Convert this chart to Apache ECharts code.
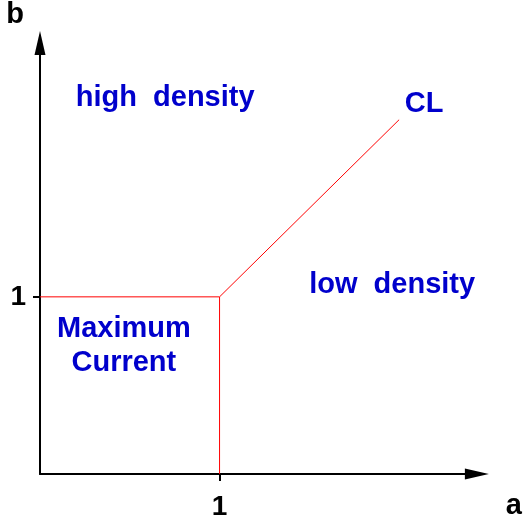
<!DOCTYPE html>
<html>
<head>
<meta charset="utf-8">
<script src="https://cdn.jsdelivr.net/npm/echarts@6/dist/echarts.min.js"></script>
<style>
    html, body { margin: 0; padding: 0; background: #fff; }
    #main { width: 525px; height: 521px; }
</style>
</head>
<body>
<div id="main"></div>
<script type="text/javascript">
    // 相图数据
    var axisMax = 2.433;
    var tickValues = [1];
    var boundaryHigh = [[0, 1], [1, 1], [2, 2]];   // 水平线 + CL 对角线
    var boundaryLow = [[1, 0], [1, 1]];            // 竖线
    var regionNames = ['high  density', 'CL', 'low  density', 'Maximum\nCurrent'];
    var regionPos = [[0.697, 2.122], [2.139, 2.089], [1.961, 1.067], [0.467, 0.725]];

    var font = 'Liberation Sans, Arial, sans-serif';
    var myChart = echarts.init(document.getElementById('main'));

    myChart.setOption({
        animation: false,
        grid: {
            left: 40,
            right: 47,
            top: 40,
            bottom: 43
        },
        xAxis: {
            type: 'value',
            min: 0,
            max: axisMax,
            name: 'a',
            nameLocation: 'end',
            nameGap: 29,
            nameTextStyle: {
                color: '#000',
                fontSize: 29,
                fontWeight: 'bold',
                fontFamily: font,
                verticalAlign: 'top',
                padding: [17, 0, 0, 0]
            },
            splitLine: {show: false},
            axisLine: {
                lineStyle: {color: '#000', width: 2},
                symbol: ['none', 'triangle'],
                symbolSize: [11, 24]
            },
            axisTick: {
                customValues: tickValues,
                length: 7,
                lineStyle: {color: '#000', width: 2}
            },
            axisLabel: {
                customValues: tickValues,
                margin: 19,
                color: '#000',
                fontSize: 28,
                fontWeight: 'bold',
                fontFamily: font
            }
        },
        yAxis: {
            type: 'value',
            min: 0,
            max: axisMax,
            name: 'b',
            nameLocation: 'end',
            nameGap: 14,
            nameTextStyle: {
                color: '#000',
                fontSize: 29,
                fontWeight: 'bold',
                fontFamily: font,
                align: 'right',
                padding: [0, 16, 0, 0]
            },
            splitLine: {show: false},
            axisLine: {
                lineStyle: {color: '#000', width: 2},
                symbol: ['none', 'triangle'],
                symbolSize: [11, 24]
            },
            axisTick: {
                customValues: tickValues,
                length: 7,
                lineStyle: {color: '#000', width: 2}
            },
            axisLabel: {
                customValues: tickValues,
                margin: 14,
                color: '#000',
                fontSize: 28,
                fontWeight: 'bold',
                fontFamily: font
            }
        },
        series: [{
            type: 'line',
            data: boundaryHigh,
            symbol: 'none',
            lineStyle: {color: '#ff0000', width: 1}
        }, {
            type: 'line',
            data: boundaryLow,
            symbol: 'none',
            lineStyle: {color: '#ff0000', width: 1}
        }, {
            type: 'scatter',
            symbolSize: 0,
            silent: true,
            itemStyle: {opacity: 1},
            data: regionPos.map(function (p, i) {
                return {name: regionNames[i], value: p};
            }),
            label: {
                show: true,
                position: 'inside',
                formatter: '{b}',
                color: '#0000cc',
                opacity: 1,
                fontSize: 29,
                fontWeight: 'bold',
                fontFamily: font,
                lineHeight: 34
            }
        }]
    });
</script>
</body>
</html>
